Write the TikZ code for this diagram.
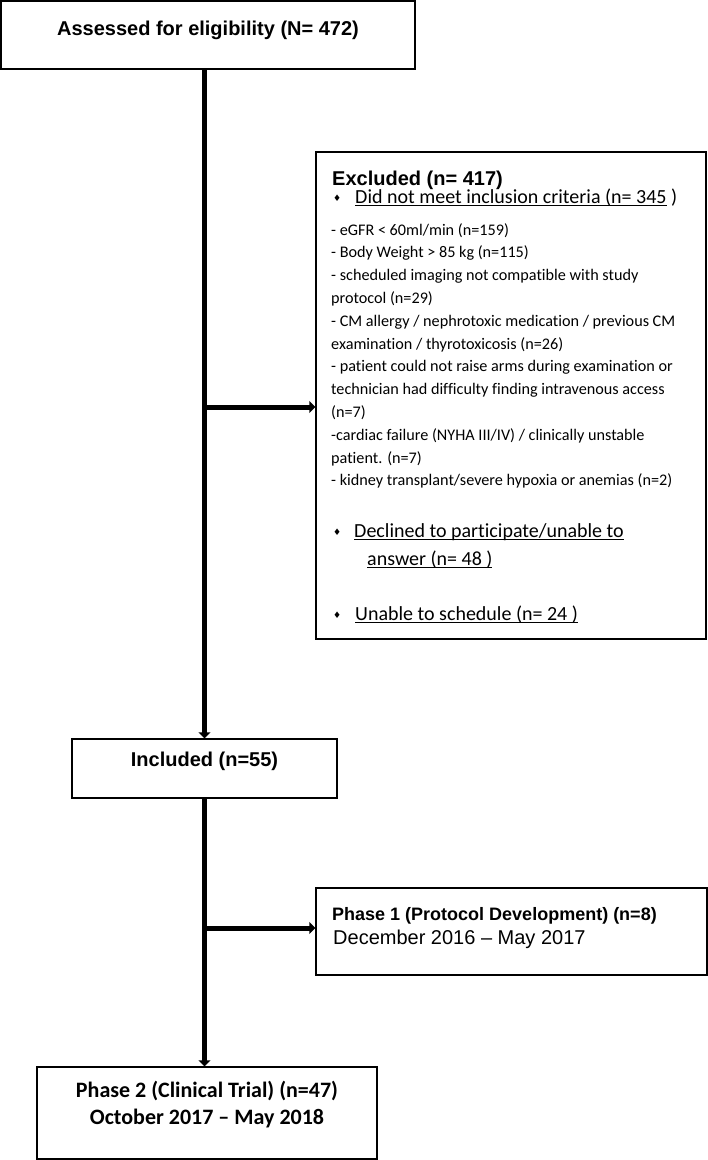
\documentclass[tikz,border=0pt]{standalone}
\usepackage{fontspec}
\setmainfont{Liberation Sans}
\newfontfamily\calib[Ligatures=NoCommon]{Carlito}
\newfontfamily\symf{DejaVu Sans}
\usetikzlibrary{arrows.meta}
\newcommand{\myul}[1]{\setbox0\hbox{#1}\rlap{\rule[-2.4pt]{\wd0}{0.9pt}}\box0\relax}
\newcommand{\dia}{{\symf\fontsize{9}{9}\selectfont\raisebox{2pt}{♦}}}
\begin{document}
\begin{tikzpicture}[x=1pt,y=-1pt,
  box/.style={draw=black, line width=1.4pt, rectangle, inner sep=0pt},
  conn/.style={line width=5pt, -{Triangle[length=6pt,width=12pt]}},
  txt/.style={inner sep=0pt, anchor=base west},
  ctxt/.style={inner sep=0pt, anchor=base},
  big/.style={font=\fontsize{20}{24}\selectfont\bfseries}]
\fill[white] (0,0) rectangle (708,1160);
\useasboundingbox (0,0) rectangle (708,1160);

% boxes
\node[box, big, minimum width=414pt, text height=34pt, text depth=34pt] (assess) at (208,35) {Assessed for eligibility (N= 472)};
\node[box, minimum width=390pt, minimum height=487pt] (excl) at (511,395.5) {};
\node[box, big, minimum width=265pt, text height=27pt, text depth=32pt] (incl) at (204.5,768.5) {Included (n=55)};
\node[box, minimum width=391pt, minimum height=87pt] (ph1) at (511.5,931.5) {};
\node[box, minimum width=340pt, minimum height=92pt] (ph2) at (207,1113) {};

% excluded box text
\node[txt, big] (exh) at (332,185) {Excluded (n= 417)};
\node[txt, font=\calib\fontsize{20}{24}\selectfont] (crit) at (333,203) {\makebox[22pt][l]{\dia}\myul{Did not meet inclusion criteria (n= 345}\ )};
\node[txt] (list) at (331,235) {\parbox[t]{370pt}{\calib\fontsize{16.2}{22.8}\selectfont\raggedright
- eGFR < 60ml/min (n=159)\\
- Body Weight > 85 kg (n=115)\\
- scheduled imaging not compatible with study\\
protocol (n=29)\\
- CM allergy / nephrotoxic medication / previous CM\\
examination / thyrotoxicosis (n=26)\\
- patient could not raise arms during examination or\\
technician had difficulty finding intravenous access\\
(n=7)\\
-cardiac failure (NYHA III/IV) / clinically unstable\\
patient. (n=7)\\
- kidney transplant/severe hypoxia or anemias (n=2)}};
\node[txt, font=\calib\fontsize{20}{24}\selectfont] (decl) at (333,537) {\makebox[21pt][l]{\dia}\myul{Declined to participate/unable to}};
\node[txt, font=\calib\fontsize{20}{24}\selectfont] (decl2) at (367,565) {\myul{answer (n= 48 )}};
\node[txt, font=\calib\fontsize{20}{24}\selectfont] (unab) at (333,620) {\makebox[22pt][l]{\dia}\myul{Unable to schedule (n= 24 )}};

% phase 1 text
\node[txt, font=\fontsize{18}{22}\selectfont\bfseries] (p1a) at (332,920) {Phase 1 (Protocol Development) (n=8)};
\node[txt, font=\fontsize{20}{24}\selectfont] (p1b) at (333,944) {December 2016 – May 2017};

% phase 2 text
\node[ctxt, font=\calib\fontsize{22}{26}\selectfont\bfseries] (p2a) at (207,1097) {Phase 2 (Clinical Trial) (n=47)};
\node[ctxt, font=\calib\fontsize{22}{26}\selectfont\bfseries] (p2b) at (207,1124) {October 2017 – May 2018};

% connectors
\coordinate (b1) at (204.5,407);
\coordinate (b2) at (204.5,928);
\draw[conn] (assess.south -| incl.north) -- (incl.north);
\draw[conn] (b1) -- (b1 -| excl.west);
\draw[conn] (incl.south) -- (incl.south |- ph2.north);
\draw[conn] (b2) -- (b2 -| ph1.west);
\end{tikzpicture}
\end{document}
